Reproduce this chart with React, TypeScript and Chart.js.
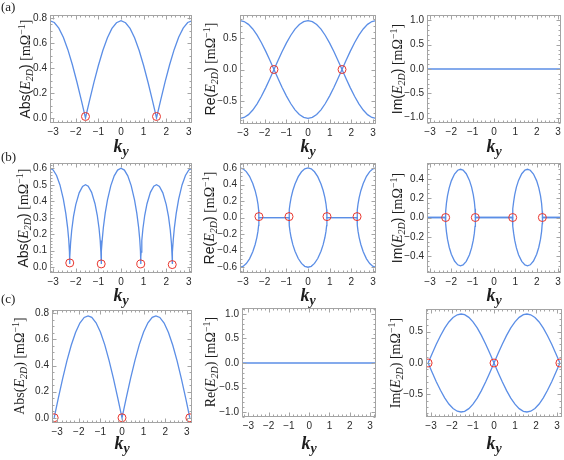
import React, { useEffect, useRef } from "react";
import { Chart, registerables } from "chart.js";
Chart.register(...registerables);

// ---------- data ----------
const xTicks = [-3, -2, -1, 0, 1, 2, 3];

const kA = [-3.14, -2.95, -2.75, -2.55, -2.35, -2.15, -1.95, -1.75, -1.571, -1.4, -1.2, -1.0, -0.8, -0.6, -0.4, -0.2, 0,
  0.2, 0.4, 0.6, 0.8, 1.0, 1.2, 1.4, 1.571, 1.75, 1.95, 2.15, 2.35, 2.55, 2.75, 2.95, 3.14];
const absA = [0.780, 0.766, 0.721, 0.647, 0.548, 0.427, 0.289, 0.139, 0.0, 0.133, 0.283, 0.421, 0.543, 0.644, 0.718, 0.764, 0.780,
  0.764, 0.718, 0.644, 0.543, 0.421, 0.283, 0.133, 0.0, 0.139, 0.289, 0.427, 0.548, 0.647, 0.721, 0.766, 0.780];
const reA1 = [-0.780, -0.766, -0.721, -0.647, -0.548, -0.427, -0.289, -0.139, 0.0, 0.133, 0.283, 0.421, 0.543, 0.644, 0.718, 0.764, 0.780,
  0.764, 0.718, 0.644, 0.543, 0.421, 0.283, 0.133, 0.0, -0.139, -0.289, -0.427, -0.548, -0.647, -0.721, -0.766, -0.780];
const reA2 = [0.780, 0.766, 0.721, 0.647, 0.548, 0.427, 0.289, 0.139, 0.0, -0.133, -0.283, -0.421, -0.543, -0.644, -0.718, -0.764, -0.780,
  -0.764, -0.718, -0.644, -0.543, -0.421, -0.283, -0.133, 0.0, 0.139, 0.289, 0.427, 0.548, 0.647, 0.721, 0.766, 0.780];
const flatKA = [-3.14, 3.14];
const flatKC = [-3.4, 3.4];
const flatZero = [0, 0];

const absC = [0.0, 0.149, 0.298, 0.435, 0.555, 0.653, 0.725, 0.768, 0.780, 0.769, 0.727, 0.656, 0.560, 0.440, 0.304, 0.155, 0.0,
  0.155, 0.304, 0.440, 0.560, 0.656, 0.727, 0.769, 0.780, 0.768, 0.725, 0.653, 0.555, 0.435, 0.298, 0.149, 0.0];
const imC1 = [0.0, -0.149, -0.298, -0.435, -0.555, -0.653, -0.725, -0.768, -0.780, -0.769, -0.727, -0.656, -0.560, -0.440, -0.304, -0.155, 0.0,
  0.155, 0.304, 0.440, 0.560, 0.656, 0.727, 0.769, 0.780, 0.768, 0.725, 0.653, 0.555, 0.435, 0.298, 0.149, 0.0];
const imC2 = [0.0, 0.149, 0.298, 0.435, 0.555, 0.653, 0.725, 0.768, 0.780, 0.769, 0.727, 0.656, 0.560, 0.440, 0.304, 0.155, 0.0,
  -0.155, -0.304, -0.440, -0.560, -0.656, -0.727, -0.769, -0.780, -0.768, -0.725, -0.653, -0.555, -0.435, -0.298, -0.149, 0.0];

const kB = [-3.14, -3.0, -2.85, -2.7, -2.55, -2.44, -2.36, -2.31, -2.28, -2.272, -2.266, -2.26, -2.23, -2.18, -2.1, -2.0, -1.85, -1.7, -1.571,
  -1.45, -1.3, -1.15, -1.05, -0.97, -0.92, -0.89, -0.882, -0.876, -0.87, -0.86, -0.83, -0.78, -0.7, -0.6, -0.45, -0.3, -0.15, 0,
  0.15, 0.3, 0.45, 0.6, 0.7, 0.78, 0.83, 0.86, 0.87, 0.876, 0.882, 0.89, 0.92, 0.97, 1.05, 1.15, 1.3, 1.45, 1.571,
  1.7, 1.85, 2.0, 2.1, 2.18, 2.23, 2.26, 2.266, 2.272, 2.28, 2.31, 2.36, 2.44, 2.55, 2.7, 2.85, 3.0, 3.14];
const absB = [0.600, 0.590, 0.556, 0.499, 0.413, 0.325, 0.239, 0.164, 0.093, 0.062, 0.020, 0.063, 0.146, 0.224, 0.308, 0.380, 0.451, 0.490, 0.500,
  0.491, 0.454, 0.385, 0.315, 0.235, 0.162, 0.091, 0.060, 0.020, 0.061, 0.098, 0.167, 0.241, 0.327, 0.407, 0.495, 0.554, 0.589, 0.600,
  0.589, 0.554, 0.495, 0.407, 0.327, 0.241, 0.167, 0.098, 0.061, 0.020, 0.060, 0.091, 0.162, 0.235, 0.315, 0.385, 0.454, 0.491, 0.500,
  0.490, 0.451, 0.380, 0.308, 0.224, 0.146, 0.063, 0.020, 0.062, 0.093, 0.164, 0.239, 0.325, 0.413, 0.499, 0.556, 0.590, 0.600];
const reB1 = [0.600, 0.590, 0.556, 0.499, 0.413, 0.325, 0.239, 0.164, 0.093, 0.062, 0, 0, 0, 0, 0, 0, 0, 0, 0,
  0, 0, 0, 0, 0, 0, 0, 0, 0, 0.061, 0.098, 0.167, 0.241, 0.327, 0.407, 0.495, 0.554, 0.589, 0.600,
  0.589, 0.554, 0.495, 0.407, 0.327, 0.241, 0.167, 0.098, 0.061, 0, 0, 0, 0, 0, 0, 0, 0, 0, 0,
  0, 0, 0, 0, 0, 0, 0, 0, 0.062, 0.093, 0.164, 0.239, 0.325, 0.413, 0.499, 0.556, 0.590, 0.600];
const reB2 = [-0.600, -0.590, -0.556, -0.499, -0.413, -0.325, -0.239, -0.164, -0.093, -0.062, 0, 0, 0, 0, 0, 0, 0, 0, 0,
  0, 0, 0, 0, 0, 0, 0, 0, 0, -0.061, -0.098, -0.167, -0.241, -0.327, -0.407, -0.495, -0.554, -0.589, -0.600,
  -0.589, -0.554, -0.495, -0.407, -0.327, -0.241, -0.167, -0.098, -0.061, 0, 0, 0, 0, 0, 0, 0, 0, 0, 0,
  0, 0, 0, 0, 0, 0, 0, 0, -0.062, -0.093, -0.164, -0.239, -0.325, -0.413, -0.499, -0.556, -0.590, -0.600];
const imB1 = [0, 0, 0, 0, 0, 0, 0, 0, 0, 0, 0, 0.063, 0.146, 0.224, 0.308, 0.380, 0.451, 0.490, 0.500,
  0.491, 0.454, 0.385, 0.315, 0.235, 0.162, 0.091, 0.060, 0, 0, 0, 0, 0, 0, 0, 0, 0, 0, 0,
  0, 0, 0, 0, 0, 0, 0, 0, 0, 0, 0.060, 0.091, 0.162, 0.235, 0.315, 0.385, 0.454, 0.491, 0.500,
  0.490, 0.451, 0.380, 0.308, 0.224, 0.146, 0.063, 0, 0, 0, 0, 0, 0, 0, 0, 0, 0, 0];
const imB2 = [0, 0, 0, 0, 0, 0, 0, 0, 0, 0, 0, -0.063, -0.146, -0.224, -0.308, -0.380, -0.451, -0.490, -0.500,
  -0.491, -0.454, -0.385, -0.315, -0.235, -0.162, -0.091, -0.060, 0, 0, 0, 0, 0, 0, 0, 0, 0, 0, 0,
  0, 0, 0, 0, 0, 0, 0, 0, 0, 0, -0.060, -0.091, -0.162, -0.235, -0.315, -0.385, -0.454, -0.491, -0.500,
  -0.490, -0.451, -0.380, -0.308, -0.224, -0.146, -0.063, 0, 0, 0, 0, 0, 0, 0, 0, 0, 0, 0];

// exceptional-point markers
const markAx = [-1.571, 1.571];
const markAbsAy = [0.012, 0.012];
const markReAy = [0, 0];
const markBx = [-2.266, -0.876, 0.876, 2.266];
const markAbsBy = [0.026, 0.02, 0.02, 0.016];
const markReBy = [0.012, 0.012, 0.012, 0.012];
const markImBy = [0, 0, 0, 0];
const markCx = [-3.14, 0, 3.14];
const markCy = [0, 0, 0];

// tick values
const yTicksAbsA = [0, 0.2, 0.4, 0.6, 0.8];
const yTicksReA = [-0.5, 0, 0.5];
const yTicksOne = [-1, -0.5, 0, 0.5, 1];
const yTicksAbsB = [0, 0.1, 0.2, 0.3, 0.4, 0.5, 0.6];
const yTicksReB = [-0.6, -0.4, -0.2, 0, 0.2, 0.4, 0.6];
const yTicksImB = [-0.4, -0.2, 0, 0.2, 0.4];

// ---------- styling ----------
const BLUE = "#5b8ee6";
const RED = "#e8342c";
const FRAME = "#a4a4a4";
const YW = 36, PT = 10, PR = 8, XH = 20;

type Curve = { x: number[]; y: number[] };
type Cfg = {
  box: [number, number, number, number];
  xr: [number, number];
  yr: [number, number];
  yTicks: number[];
  yMinor: number;
  curves: Curve[];
  marks?: Curve;
};

const framePlugin = {
  id: "frame",
  afterDraw(chart: any, _a: any, opts: any) {
    const { ctx, chartArea: a } = chart;
    const xs = chart.scales.x, ys = chart.scales.y;
    const L = Math.round(a.left) + 0.5, T = Math.round(a.top) + 0.5;
    const R = Math.round(a.right) - 0.5, B = Math.round(a.bottom) - 0.5;
    ctx.save();
    ctx.strokeStyle = FRAME;
    ctx.lineWidth = 1;
    ctx.strokeRect(L, T, R - L, B - T);
    const list = (scale: any, step: number) => {
      const out: { v: number; major: boolean }[] = [];
      const i0 = Math.ceil(scale.min / step - 1e-6), i1 = Math.floor(scale.max / step + 1e-6);
      for (let i = i0; i <= i1; i++) {
        const v = i * step;
        out.push({ v, major: scale.ticks.some((t: any) => Math.abs(t.value - v) < step / 10) });
      }
      return out;
    };
    ctx.beginPath();
    for (const t of list(xs, opts.xMinor)) {
      const p = Math.round(xs.getPixelForValue(t.v)) + 0.5;
      const len = t.major ? 4 : 2;
      ctx.moveTo(p, B); ctx.lineTo(p, B - len);
      ctx.moveTo(p, T); ctx.lineTo(p, T + len);
    }
    for (const t of list(ys, opts.yMinor)) {
      const p = Math.round(ys.getPixelForValue(t.v)) + 0.5;
      const len = t.major ? 4 : 2;
      ctx.moveTo(L, p); ctx.lineTo(L + len, p);
      ctx.moveTo(R, p); ctx.lineTo(R - len, p);
    }
    ctx.stroke();
    ctx.restore();
  },
};

const toPts = (c: Curve) => c.x.map((x, i) => ({ x, y: c.y[i] }));

function Panel({ cfg }: { cfg: Cfg }) {
  const ref = useRef<HTMLCanvasElement>(null);
  const [L, T, R, B] = cfg.box;
  const w = R - L + YW + PR, h = B - T + PT + XH;
  useEffect(() => {
    const datasets: any[] = cfg.curves.map((c) => ({
      data: toPts(c), showLine: true, borderColor: BLUE, borderWidth: 1.3,
      pointRadius: 0, tension: 0, order: 2,
    }));
    if (cfg.marks) {
      datasets.push({
        data: toPts(cfg.marks), showLine: false, pointRadius: 4, pointBorderWidth: 1,
        pointBorderColor: RED, pointBackgroundColor: "rgba(0,0,0,0)", order: 0,
      });
    }
    const font = { family: "'Liberation Sans', Arial, sans-serif", size: 10 };
    const chart = new Chart(ref.current as HTMLCanvasElement, {
      type: "scatter",
      data: { datasets },
      options: {
        animation: false,
        responsive: false,
        devicePixelRatio: 1,
        events: [],
        layout: { padding: { left: 0, top: PT, right: PR, bottom: 0 } },
        plugins: { legend: { display: false }, tooltip: { enabled: false }, frame: { xMinor: 0.2, yMinor: cfg.yMinor } } as any,
        scales: {
          x: {
            type: "linear", min: cfg.xr[0], max: cfg.xr[1],
            grid: { display: false, drawTicks: false }, border: { display: false },
            afterBuildTicks: (s: any) => { s.ticks = xTicks.map((v) => ({ value: v })); },
            afterFit: (s: any) => { s.height = XH; },
            ticks: { font, color: "#2a2a2a", padding: 3, maxRotation: 0, autoSkip: false,
              callback: (v: any) => String(v).replace("-", "\u2212") },
          },
          y: {
            type: "linear", min: cfg.yr[0], max: cfg.yr[1],
            grid: { display: false, drawTicks: false }, border: { display: false },
            afterBuildTicks: (s: any) => { s.ticks = cfg.yTicks.map((v) => ({ value: v })); },
            afterFit: (s: any) => { s.width = YW; },
            ticks: { font, color: "#2a2a2a", padding: 3, autoSkip: false,
              callback: (v: any) => Number(v).toFixed(1).replace("-", "\u2212") },
          },
        },
      } as any,
      plugins: [framePlugin],
    });
    return () => chart.destroy();
  }, []);
  return (
    <canvas ref={ref} width={w} height={h}
      style={{ position: "absolute", left: L - YW, top: T - PT, width: w, height: h }} />
  );
}

const PANELS: Cfg[] = [
  { box: [50, 15, 192, 123], xr: [-3.14, 3.14], yr: [-0.04, 0.826], yTicks: yTicksAbsA, yMinor: 0.05,
    curves: [{ x: kA, y: absA }], marks: { x: markAx, y: markAbsAy } },
  { box: [240, 15, 376, 124], xr: [-3.14, 3.14], yr: [-0.87, 0.87], yTicks: yTicksReA, yMinor: 0.1,
    curves: [{ x: kA, y: reA1 }, { x: kA, y: reA2 }], marks: { x: markAx, y: markReAy } },
  { box: [427, 15, 561, 123], xr: [-3.14, 3.14], yr: [-1.11, 1.11], yTicks: yTicksOne, yMinor: 0.1,
    curves: [{ x: flatKA, y: flatZero }] },
  { box: [50, 163, 192, 273], xr: [-3.14, 3.14], yr: [-0.035, 0.632], yTicks: yTicksAbsB, yMinor: 0.02,
    curves: [{ x: kB, y: absB }], marks: { x: markBx, y: markAbsBy } },
  { box: [240, 163, 376, 273], xr: [-3.14, 3.14], yr: [-0.67, 0.66], yTicks: yTicksReB, yMinor: 0.05,
    curves: [{ x: kB, y: reB1 }, { x: kB, y: reB2 }], marks: { x: markBx, y: markReBy } },
  { box: [427, 163, 561, 273], xr: [-3.14, 3.14], yr: [-0.575, 0.565], yTicks: yTicksImB, yMinor: 0.05,
    curves: [{ x: kB, y: imB1 }, { x: kB, y: imB2 }], marks: { x: markBx, y: markImBy } },
  { box: [52, 310, 192, 423], xr: [-3.24, 3.24], yr: [-0.04, 0.825], yTicks: yTicksAbsA, yMinor: 0.05,
    curves: [{ x: kA, y: absC }], marks: { x: markCx, y: markCy } },
  { box: [242, 308, 376, 417], xr: [-3.32, 3.3], yr: [-1.1, 1.12], yTicks: yTicksOne, yMinor: 0.1,
    curves: [{ x: flatKC, y: flatZero }] },
  { box: [426, 309, 562, 417], xr: [-3.24, 3.24], yr: [-0.86, 0.86], yTicks: yTicksReA, yMinor: 0.1,
    curves: [{ x: kA, y: imC1 }, { x: kA, y: imC2 }], marks: { x: markCx, y: markCy } },
];

const SERIF = "'Liberation Serif', 'Times New Roman', serif";
const SANS = "'Liberation Sans', Arial, sans-serif";

function YTitle({ cx, cy, head, serifHead }: { cx: number; cy: number; head: string; serifHead?: boolean }) {
  return (
    <div style={{ position: "absolute", left: cx, top: cy, transform: "translate(-50%,-50%) rotate(-90deg)",
      whiteSpace: "nowrap", fontSize: 14, lineHeight: "16px", color: "#1e1e1e", fontFamily: SERIF }}>
      <span style={{ fontFamily: serifHead ? SERIF : SANS }}>{head}(</span>
      <i>E</i>
      <span style={{ fontSize: 10, fontStyle: "italic", position: "relative", top: 3 }}>2D</span>
      <span style={{ fontFamily: serifHead ? SERIF : SANS }}>)</span>
      {" "}[mΩ<span style={{ fontSize: 10, position: "relative", top: -5 }}>−1</span>]
    </div>
  );
}

function XTitle({ cx, cy }: { cx: number; cy: number }) {
  return (
    <div style={{ position: "absolute", left: cx, top: cy, transform: "translate(-50%,-50%)",
      whiteSpace: "nowrap", fontFamily: SERIF, fontWeight: "bold", fontStyle: "italic", color: "#1e1e1e", lineHeight: "18px" }}>
      <span style={{ fontSize: 18 }}>k</span>
      <span style={{ fontSize: 14, position: "relative", top: 4 }}>y</span>
    </div>
  );
}

const Y_TITLES = [
  { cx: 26, cy: 69, head: "Abs" }, { cx: 211, cy: 69, head: "Re" }, { cx: 398, cy: 69, head: "Im" },
  { cx: 24, cy: 218, head: "Abs" }, { cx: 210, cy: 218, head: "Re" }, { cx: 398, cy: 218, head: "Im" },
  { cx: 20, cy: 366, head: "Abs", serifHead: true }, { cx: 211, cy: 362, head: "Re", serifHead: true },
  { cx: 396, cy: 363, head: "Im", serifHead: true },
];
const X_TITLE_Y = [147, 296, 444];

export default function App() {
  return (
    <div style={{ position: "fixed", left: 0, top: 0, width: 564, height: 460, background: "#fff", overflow: "hidden" }}>
      {PANELS.map((p, i) => <Panel key={i} cfg={p} />)}
      {Y_TITLES.map((t, i) => <YTitle key={i} {...t} />)}
      {PANELS.map((p, i) => (
        <XTitle key={"x" + i} cx={(p.box[0] + p.box[2]) / 2} cy={X_TITLE_Y[Math.floor(i / 3)]} />
      ))}
      {[["(a)", 0], ["(b)", 150], ["(c)", 292]].map(([s, t]) => (
        <div key={s as string} style={{ position: "absolute", left: 1, top: t as number, fontFamily: SERIF,
          fontSize: 13, lineHeight: "13px", color: "#222" }}>{s}</div>
      ))}
    </div>
  );
}
